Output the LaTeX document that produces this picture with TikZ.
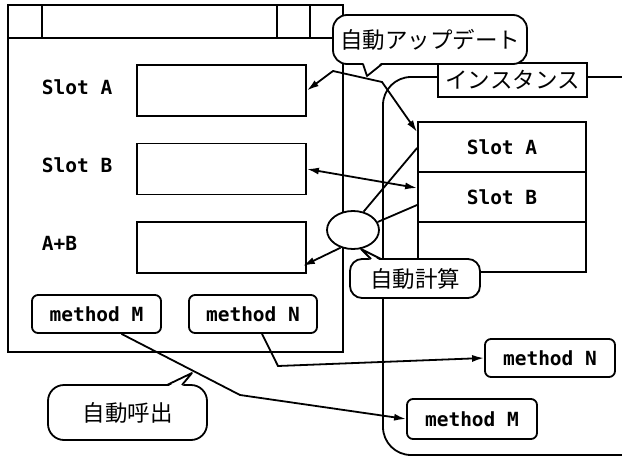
\documentclass[tikz,border=0pt]{standalone}
\usepackage{fontspec}
\setmainfont{DejaVu Sans Mono}
\newfontfamily\jpfont{Noto Sans CJK JP}
\usetikzlibrary{arrows.meta,calc,shapes.geometric}
\begin{document}
\begin{tikzpicture}[x=1pt,y=-1pt,line width=1.8pt,
  lat/.style={font=\fontsize{19.5}{20}\selectfont\bfseries},
  jp/.style={font=\jpfont\fontsize{22.5}{23}\selectfont},
  fieldbox/.style={draw,fill=white,minimum width=169pt,minimum height=51pt,inner sep=0pt},
  cellbox/.style={draw,fill=white,minimum width=168pt,minimum height=50pt,inner sep=0pt,lat},
  methbox/.style={draw,fill=white,rounded corners=6pt,minimum height=38pt,minimum width=129pt,inner sep=0pt,lat},
  bubble/.style={draw,fill=white,inner sep=0pt,jp},
  arr/.style={-{Latex[length=12pt,width=7pt]}},
  darr/.style={{Latex[length=12pt,width=7pt]}-{Latex[length=12pt,width=7pt]}}]
\useasboundingbox (0,0) rectangle (622,458);
\fill[white] (0,0) rectangle (622,458);
% instance frame
\begin{scope}
\clip (0,0) rectangle (622,458);
\draw[rounded corners=28pt] (383,77) rectangle (650,455);
\end{scope}
% left window
\draw (8,5) rectangle (343,352);
\draw (8,38) -- (343,38);
\draw (42,5) -- (42,38);
\draw (277,5) -- (277,38);
\draw (310,5) -- (310,38);
\node[lat,anchor=base west,inner sep=0pt] (ta) at (41,94) {Slot A};
\node[lat,anchor=base west,inner sep=0pt] (tb) at (41,172) {Slot B};
\node[lat,anchor=base west,inner sep=0pt] (tab) at (41,250) {A+B};
\node[fieldbox] (la) at (221.5,90.5) {};
\node[fieldbox] (lb) at (221.5,169) {};
\node[fieldbox] (lab) at (221.5,247.5) {};
\node[methbox] (lm) at (96.5,314) {method M};
\node[methbox,minimum width=128pt] (ln) at (253,314) {method N};
% instance
\node[draw,fill=white,minimum width=149pt,minimum height=34pt,inner sep=0pt,jp] (il) at (512.5,80) {インスタンス};
\node[cellbox] (ra) at (502,147) {Slot A};
\node[cellbox] (rb) at (502,197) {Slot B};
\node[cellbox] (rc) at (502,247) {};
\node[methbox,minimum width=130pt] (rn) at (550,358) {method N};
\node[methbox,minimum width=130pt,minimum height=40pt] (rm) at (472,419) {method M};
% connectors
\draw[darr] (la.east) -- (333,71) -- (382,82) -- ($(ra.north west)+(0,11)$);
\draw[darr] (lb.east) -- ($(rb.west)+(0,-9)$);
\node[draw,fill=white,ellipse,minimum width=52pt,minimum height=38pt,inner sep=0pt] (e) at (353,230) {};
\draw ($(ra.west)+(0,1)$) -- (e.60);
\draw ($(rb.west)+(0,8)$) -- (e.18);
\draw[arr] (e.235) -- ($(lab.south east)+(-4,-8)$);
\draw[arr] ($(ln.south)+(9,0)$) -- (278,366) -- (rn.west);
\draw[arr] ($(lm.south)+(25,0)$) -- (240,395) -- (rm.west);
% callouts
\node[bubble,rounded corners=14pt,minimum width=194pt,minimum height=49pt] (upd) at (430,39.5) {自動アップデート};
\coordinate (updtip) at (367,76);
\fill[white] (363,62) -- (updtip) -- (382,62) -- cycle;
\draw[line join=round] (363,64) -- (updtip) -- (382,64);
\node[bubble,rounded corners=12pt,minimum width=130pt,minimum height=39pt] (calc) at (415,278.5) {自動計算};
\coordinate (calctip) at (361,249);
\fill[white] (371,261) -- (calctip) -- (381,261) -- cycle;
\draw[line join=round] (371,259) -- (calctip) -- (381,259);
\node[bubble,rounded corners=16pt,minimum width=159pt,minimum height=55pt] (call) at (127.5,412.5) {自動呼出};
\coordinate (calltip) at (192,373);
\fill[white] (167,387) -- (calltip) -- (182,387) -- cycle;
\draw[line join=round] (167,385) -- (calltip) -- (182,385);
\end{tikzpicture}
\end{document}
